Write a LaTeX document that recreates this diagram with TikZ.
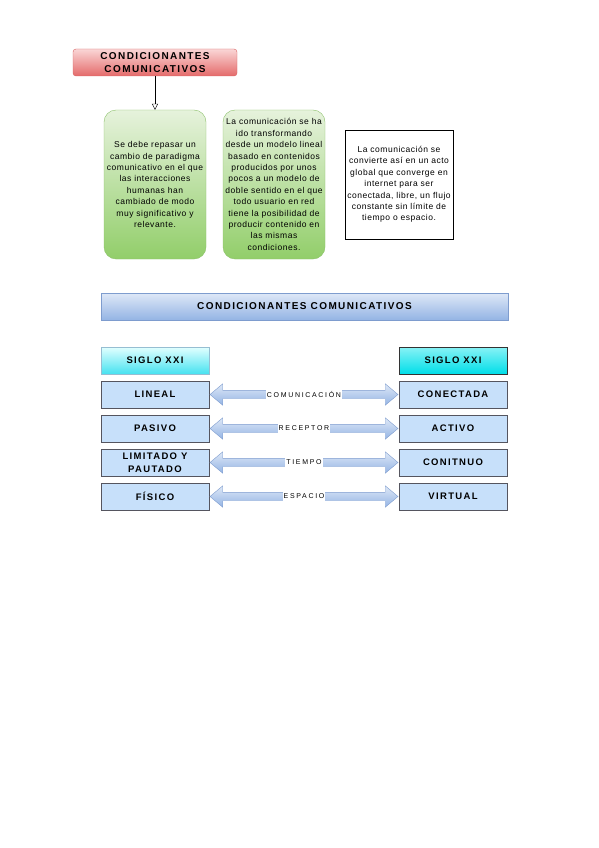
\documentclass[tikz,border=0pt]{standalone}
\usepackage{fontspec}
\setmainfont{Liberation Sans}
\newfontfamily\txt[LetterSpace=6]{Liberation Sans}
\newfontfamily\hd[LetterSpace=14]{Liberation Sans}
\newfontfamily\spaced[LetterSpace=24]{Liberation Sans}
\usetikzlibrary{arrows.meta,shapes.arrows}
\definecolor{redtop}{RGB}{250,214,214}
\definecolor{redbot}{RGB}{228,106,106}
\definecolor{redline}{RGB}{214,96,96}
\definecolor{greentop}{RGB}{230,242,220}
\definecolor{greenbot}{RGB}{146,206,106}
\definecolor{greenline}{RGB}{140,192,106}
\definecolor{bluetop}{RGB}{222,232,247}
\definecolor{bluebot}{RGB}{148,180,228}
\definecolor{blueline}{RGB}{126,156,206}
\definecolor{cyantop}{RGB}{226,255,255}
\definecolor{cyanbot}{RGB}{70,226,240}
\definecolor{cyanline}{RGB}{150,190,210}
\definecolor{cyandark}{RGB}{0,222,232}
\definecolor{rowfill}{RGB}{199,224,250}
\definecolor{rowline}{RGB}{85,85,95}

\begin{document}
\begin{tikzpicture}[x=1pt,y=-1pt,>=Latex,font=\txt\fontsize{8.5}{11.4}\selectfont,
          tit/.style={draw=redline,rounded corners=3pt,top color=redtop,bottom color=redbot,minimum width=164pt,minimum height=27pt,inner sep=0pt,align=center,font=\hd\fontsize{10}{13.5}\selectfont\bfseries},
          gbox/.style={draw=greenline,rounded corners=12pt,top color=greentop,bottom color=greenbot,minimum width=102pt,minimum height=149pt,inner sep=0pt,align=center},
          wbox/.style={draw,minimum width=108pt,minimum height=109pt,inner sep=0pt,align=center},
          banner/.style={draw=blueline,top color=bluetop,bottom color=bluebot,minimum width=407pt,minimum height=27pt,inner sep=0pt,font=\hd\fontsize{10}{11}\selectfont\bfseries},
          siglo/.style={draw=cyanline,top color=cyantop,bottom color=cyanbot,minimum width=108pt,minimum height=27pt,inner sep=0pt,font=\hd\fontsize{9.5}{10}\selectfont\bfseries},
          rbx/.style={draw=rowline,fill=rowfill,minimum width=108pt,minimum height=27pt,inner sep=0pt,align=center,font=\hd\fontsize{9.5}{12.5}\selectfont\bfseries},
          dbl/.style={double arrow,draw=blueline,top color=bluetop,bottom color=bluebot,minimum height=188pt,minimum width=21pt,double arrow head extend=6.5pt,double arrow tip angle=80,inner xsep=0pt,inner ysep=4pt},
          lab/.style={fill=white,inner xsep=1pt,inner ysep=0pt,minimum height=9.5pt,font=\spaced\fontsize{7}{8}\selectfont}]
        \useasboundingbox (0,0) rectangle (599,848);
        \node[tit] (cc) at (155,62.5) {CONDICIONANTES\\COMUNICATIVOS};
        \node[gbox] (g1) at (155,184.5) {Se debe repasar un\\cambio de paradigma\\comunicativo en el que\\las interacciones\\humanas han\\cambiado de modo\\muy significativo y\\relevante.};
        \node[gbox] (g2) at (274,184.5) {La comunicación se ha\\ido transformando\\desde un modelo lineal\\basado en contenidos\\producidos por unos\\pocos a un modelo de\\doble sentido en el que\\todo usuario en red\\tiene la posibilidad de\\producir contenido en\\las mismas\\condiciones.};
        \node[wbox] (w) at (399,184.5) {La comunicación se\\convierte así en un acto\\global que converge en\\internet para ser\\conectada, libre, un flujo\\constante sin límite de\\tiempo o espacio.};
        \draw[-{Triangle[open,width=6pt,length=6pt]}] (cc) -- (g1);
        \node[banner] (ban) at (304.5,306.5) {CONDICIONANTES COMUNICATIVOS};
        \node[siglo] (sl) at (155,360.5) {SIGLO XXI};
        \node[siglo,draw=black!80,top color=cyantop!60!cyandark,bottom color=cyandark] (sr) at (453,360.5) {SIGLO XXI};
        \node[rbx] (l1) at (155,394.5) {LINEAL};
        \node[rbx] (r1) at (453,394.5) {CONECTADA};
        \node[rbx] (l2) at (155,428.5) {PASIVO};
        \node[rbx] (r2) at (453,428.5) {ACTIVO};
        \node[rbx] (l3) at (155,462.5) {LIMITADO Y\\PAUTADO};
        \node[rbx] (r3) at (453,462.5) {CONITNUO};
        \node[rbx] (l4) at (155,496.5) {FÍSICO};
        \node[rbx] (r4) at (453,496.5) {VIRTUAL};
        \path (l1.east) -- node[dbl] (a1) {} (r1.west);
        \path (l2.east) -- node[dbl] (a2) {} (r2.west);
        \path (l3.east) -- node[dbl] (a3) {} (r3.west);
        \path (l4.east) -- node[dbl] (a4) {} (r4.west);
        \node[lab] (t1) at (a1.center) {COMUNICACIÓN};
        \node[lab] (t2) at (a2.center) {RECEPTOR};
        \node[lab] (t3) at (a3.center) {TIEMPO};
        \node[lab] (t4) at (a4.center) {ESPACIO};
      \end{tikzpicture}
\end{document}
